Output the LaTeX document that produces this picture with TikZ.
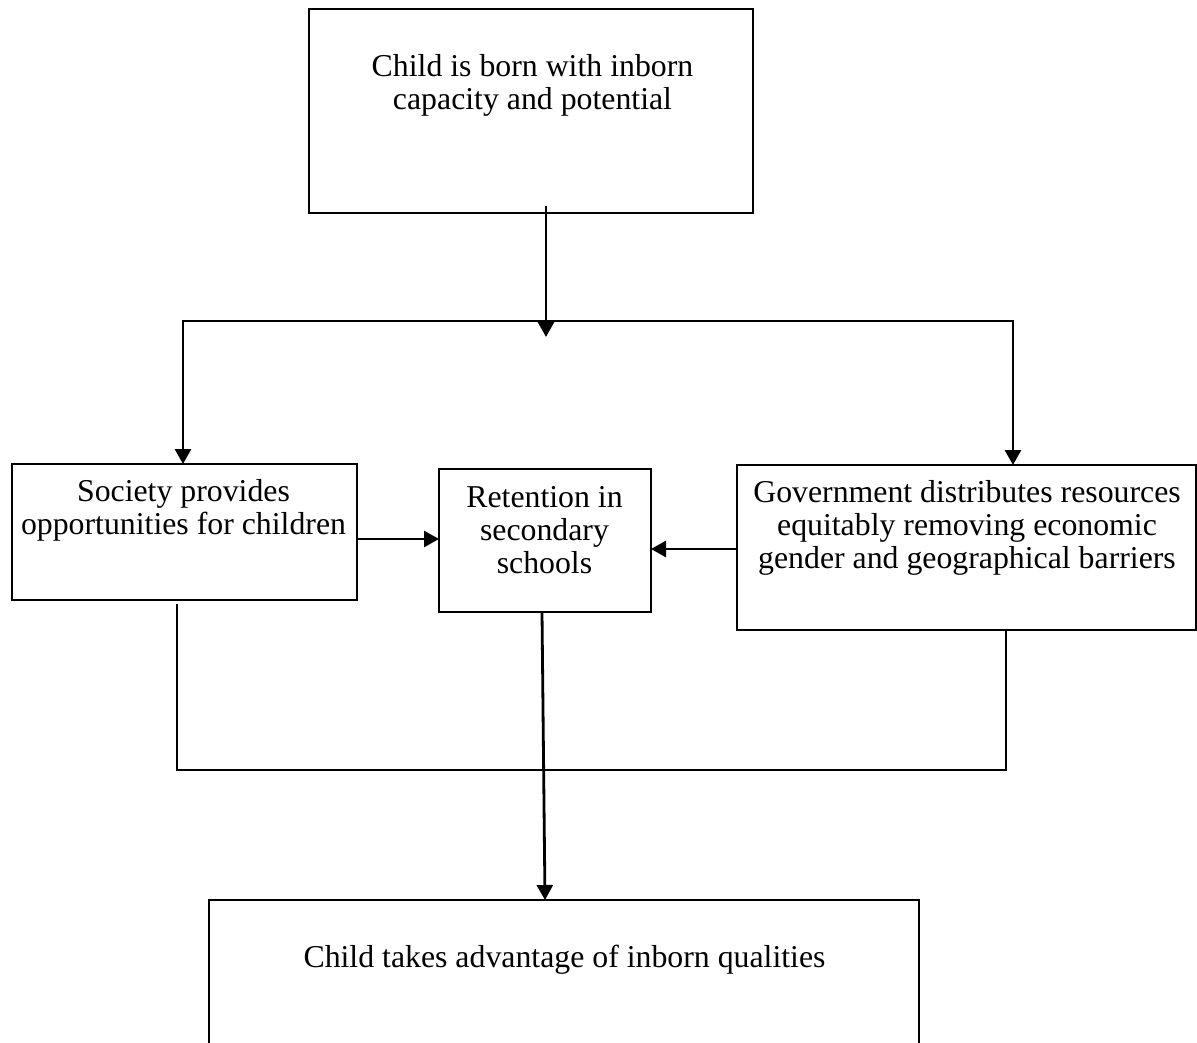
\documentclass[tikz,border=0pt]{standalone}
\usepackage{fontspec}
\setmainfont{Liberation Serif}
\usetikzlibrary{arrows.meta}
\begin{document}
\begin{tikzpicture}[x=1pt,y=-1pt,
  box/.style={draw=black,line width=2.2pt,minimum width=#1,inner sep=0pt,outer sep=0pt},
  lbl/.style={anchor=base,align=center,inner sep=0pt,font=\fontsize{31.8}{33}\selectfont},
  conn/.style={draw=black,line width=2.8pt},
  arr/.style={conn,-{Triangle[width=16pt,length=15pt]}}]
\useasboundingbox (0,0) rectangle (1197,1043);
\clip (0,0) rectangle (1197,1043);
% boxes
\node[box=444pt,minimum height=204pt] (top) at (531,111) {};
\node[box=345pt,minimum height=136pt] (soc) at (184.5,532) {};
\node[box=212pt,minimum height=143pt] (ret) at (545,540.5) {};
\node[box=459pt,minimum height=165pt] (gov) at (966.5,547.5) {};
\node[box=710pt,minimum height=220pt] (bot) at (564,1010) {};
% texts (anchor base = baseline of last line)
\node[lbl] (ttop) at (532.5,110) {Child is born with inborn\\capacity and potential};
\node[lbl] (tsoc) at (183.5,534) {Society provides\\opportunities for children};
\node[lbl] (tret) at (544.5,573) {Retention in\\secondary\\schools};
\node[lbl] (tgov) at (967,568) {Government distributes resources\\equitably removing economic\\gender and geographical barriers};
\node[lbl] (tbot) at (564.5,967) {Child takes advantage of inborn qualities};
% helper coordinates
\coordinate (j1) at (546,337);
\coordinate (hl) at (183,321);
\coordinate (hr) at (1013,321);
\coordinate (a1) at (0,539);
\coordinate (a2) at (0,549);
\coordinate (r1) at (542,0);
\coordinate (r2) at (545,0);
\coordinate (c1) at (177,604);
\coordinate (c2) at (177,770);
\coordinate (c3) at (1006,770);
% connectors
\draw[arr] ([yshift=7pt]top.south -| j1) -- (j1);
\draw[conn,{Triangle[width=16pt,length=15pt]}-{Triangle[width=16pt,length=15pt]}]
  (hl |- soc.north) -- (hl) -- (hr) -- (hr |- gov.north);
\draw[arr] (soc.east |- a1) -- (ret.west |- a1);
\draw[arr] (gov.west |- a2) -- (ret.east |- a2);
\draw[arr] (ret.south -| r1) -- (bot.north -| r2);
\draw[conn] (c1) -- (c2) -- (c3) -- (gov.south -| c3);
\end{tikzpicture}
\end{document}
